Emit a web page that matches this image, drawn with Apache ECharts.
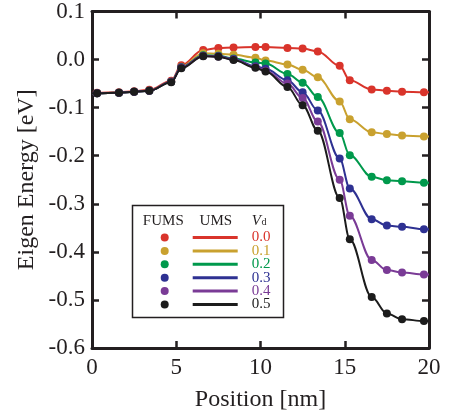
<!DOCTYPE html>
<html>
<head>
<meta charset="utf-8">
<script src="https://cdn.jsdelivr.net/npm/echarts@6/dist/echarts.min.js"></script>
<style>
  html, body { margin: 0; padding: 0; background: #fff; }
  #chart { width: 449px; height: 419px; }
</style>
</head>
<body>
<div id="chart"></div>
<script>
/* data */
var position = [0.3, 1.6, 2.5, 3.4, 4.7, 5.3, 6.6, 7.5, 8.4, 9.7, 10.3, 11.6, 12.5, 13.4, 14.7, 15.3, 16.6, 17.5, 18.4, 19.7];
var vdLabels = ['0.0', '0.1', '0.2', '0.3', '0.4', '0.5'];
var e00 = [-0.069, -0.068, -0.066, -0.063, -0.044, -0.012, 0.020, 0.024, 0.025, 0.026, 0.026, 0.024, 0.023, 0.017, -0.013, -0.043, -0.062, -0.065, -0.067, -0.068];
var e01 = [-0.070, -0.069, -0.067, -0.065, -0.046, -0.015, 0.013, 0.012, 0.010, 0.004, -0.002, -0.010, -0.021, -0.037, -0.087, -0.124, -0.151, -0.155, -0.158, -0.160];
var e02 = [-0.070, -0.069, -0.067, -0.065, -0.046, -0.016, 0.009, 0.008, 0.002, -0.006, -0.008, -0.030, -0.048, -0.078, -0.153, -0.199, -0.244, -0.251, -0.253, -0.256];
var e03 = [-0.070, -0.069, -0.067, -0.065, -0.046, -0.016, 0.008, 0.007, 0.001, -0.014, -0.019, -0.043, -0.068, -0.106, -0.206, -0.268, -0.332, -0.345, -0.348, -0.353];
var e04 = [-0.070, -0.069, -0.067, -0.065, -0.046, -0.017, 0.0075, 0.0065, 0.000, -0.016, -0.023, -0.050, -0.080, -0.129, -0.250, -0.325, -0.417, -0.438, -0.443, -0.447];
var e05 = [-0.070, -0.069, -0.067, -0.065, -0.047, -0.018, 0.007, 0.006, -0.001, -0.017, -0.025, -0.057, -0.095, -0.148, -0.288, -0.374, -0.494, -0.528, -0.540, -0.544];
var energies = [e00, e01, e02, e03, e04, e05];
var colors = ['#d9342b', '#c9a12f', '#00994c', '#2e3192', '#7a3b96', '#1c1c1c'];

var font = '"Liberation Serif", "Times New Roman", serif';
var ink = '#231f20';

/* FUMS points and UMS lines (the line runs from edge to edge) */
function buildSeries() {
	var list = [];
	for (var i = 0; i < energies.length; i++) {
		var vals = energies[i];
		var line = [[0, vals[0]]];
		var pts = [];
		for (var j = 0; j < position.length; j++) {
			line.push([position[j], vals[j]]);
			pts.push([position[j], vals[j]]);
		}
		line.push([20, vals[vals.length - 1]]);
		list.push({
			name: vdLabels[i],
			type: 'line',
			data: line,
			smooth: 0.35,
			smoothMonotone: 'x',
			showSymbol: false,
			symbol: 'none',
			color: colors[i],
			itemStyle: {color: colors[i]},
			lineStyle: {color: colors[i], width: 2},
			z: 2 + i * 0.01
		});
		list.push({
			name: 'F' + vdLabels[i],
			type: 'scatter',
			data: pts,
			symbol: 'circle',
			symbolSize: 8,
			color: colors[i],
			itemStyle: {color: colors[i], opacity: 1},
			z: 2 + i * 0.01
		});
	}
	return list;
}

function axisBase(pos, showLabel) {
	return {
		type: 'value',
		position: pos,
		axisLine: {show: true, onZero: false, lineStyle: {color: ink, width: 3}},
		axisTick: {show: true, inside: true, length: 7, lineStyle: {color: ink, width: 2.5}},
		splitLine: {show: false},
		axisLabel: {show: showLabel, fontFamily: font, fontSize: 23, color: ink}
	};
}

function chart() {
	var c = echarts.init(document.getElementById('chart'));
	var xBottom = axisBase('bottom', true);
	xBottom.min = 0; xBottom.max = 20; xBottom.interval = 5;
	xBottom.axisLabel.margin = 8;
	xBottom.name = 'Position [nm]';
	xBottom.nameLocation = 'middle';
	xBottom.nameGap = 40;
	xBottom.nameMoveOverlap = false;
	xBottom.nameTextStyle = {fontFamily: font, fontSize: 24, color: ink};
	var xTop = axisBase('top', false);
	xTop.min = 0; xTop.max = 20; xTop.interval = 5;

	var yLeft = axisBase('left', true);
	yLeft.min = -0.6; yLeft.max = 0.1; yLeft.interval = 0.1;
	yLeft.axisLabel.margin = 7;
	yLeft.axisLabel.formatter = function (v) {
		if (Math.abs(v) < 1e-9) return '0.0';
		return v.toFixed(1);
	};
	yLeft.name = 'Eigen Energy [eV]';
	yLeft.nameLocation = 'middle';
	yLeft.nameGap = 53;
	yLeft.nameMoveOverlap = false;
	yLeft.nameTextStyle = {fontFamily: font, fontSize: 24, color: ink};
	var yRight = axisBase('right', false);
	yRight.min = -0.6; yRight.max = 0.1; yRight.interval = 0.1;

	var lineLegend = [];
	var dotLegend = [];
	for (var i = 0; i < vdLabels.length; i++) {
		lineLegend.push({name: vdLabels[i], textStyle: {color: colors[i]}});
		dotLegend.push({name: 'F' + vdLabels[i]});
	}

	var options = {
		animation: false,
		backgroundColor: '#fff',
		grid: {left: 92, right: 20, top: 9, bottom: 71},
		xAxis: [xBottom, xTop],
		yAxis: [yLeft, yRight],
		legend: [{
			data: dotLegend,
			orient: 'vertical',
			left: 160.7,
			top: 230,
			padding: 0,
			itemGap: -1.6,
			icon: 'circle',
			itemWidth: 8,
			itemHeight: 8,
			selectedMode: false,
			textStyle: {fontFamily: font, fontSize: 15, color: 'rgba(0,0,0,0)'},
			z: 10
		}, {
			data: lineLegend,
			orient: 'vertical',
			left: 192.7,
			top: 230,
			padding: 0,
			itemGap: -1.6,
			icon: 'rect',
			itemWidth: 45,
			itemHeight: 3,
			selectedMode: false,
			textStyle: {fontFamily: font, fontSize: 15, padding: [0, 0, 0, 9]},
			z: 10
		}],
		graphic: [{
			type: 'rect',
			z: 8,
			shape: {x: 132.5, y: 205.5, width: 151, height: 112},
			style: {fill: '#fff', stroke: ink, lineWidth: 1.5}
		}, {
			type: 'text', z: 9, x: 163.3, y: 221,
			style: {text: 'FUMS', font: '15px ' + font, fill: ink, align: 'center', verticalAlign: 'middle'}
		}, {
			type: 'text', z: 9, x: 215.8, y: 221,
			style: {text: 'UMS', font: '15px ' + font, fill: ink, align: 'center', verticalAlign: 'middle'}
		}, {
			type: 'text', z: 9, x: 256.3, y: 221,
			style: {text: 'V', font: 'italic 15px ' + font, fill: ink, align: 'center', verticalAlign: 'middle'}
		}, {
			type: 'text', z: 9, x: 264, y: 222.5,
			style: {text: 'd', font: '10px ' + font, fill: ink, align: 'center', verticalAlign: 'middle'}
		}],
		series: buildSeries()
	};
	c.setOption(options);
}

chart();
</script>
</body>
</html>
